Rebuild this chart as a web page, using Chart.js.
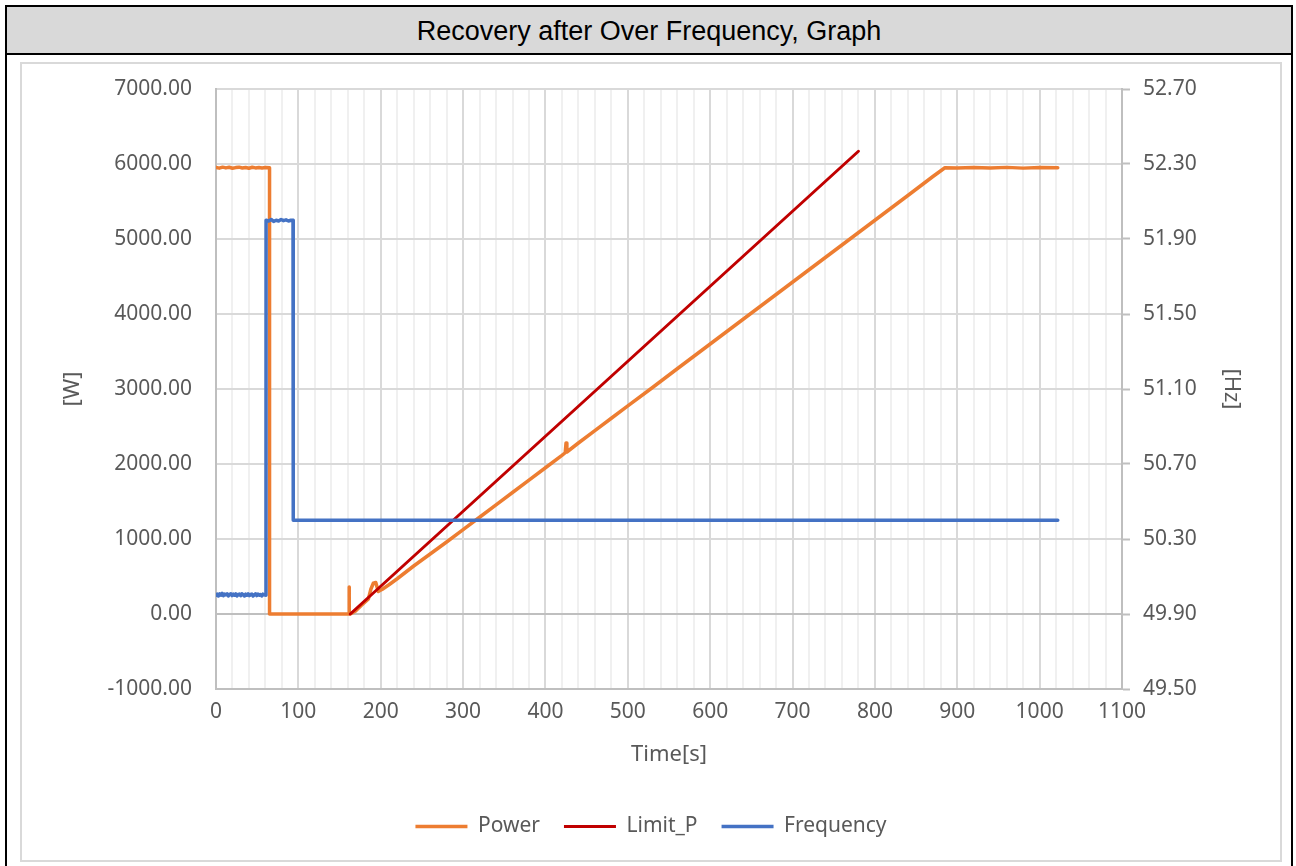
<!DOCTYPE html>
<html>
<head>
<meta charset="utf-8">
<script src="https://cdn.jsdelivr.net/npm/chart.js@4.4.1/dist/chart.umd.min.js"></script>
<style>
  html, body { margin: 0; padding: 0; background: #fff; overflow: hidden; }
  #outer { position: absolute; left: 5px; top: 5px; width: 1288px; height: 900px; box-sizing: border-box; border: 2px solid #000; }
  #title { position: absolute; left: 0; top: 0; right: 0; height: 46px; background: #d9d9d9; border-bottom: 2px solid #000;
           font-family: "Liberation Sans", Arial, sans-serif; font-size: 27px; color: #000; text-align: center; line-height: 48px; }
  #chartbox { position: absolute; left: 20px; top: 62px; width: 1262px; height: 800px; box-sizing: border-box; border: 2px solid #d9d9d9; }
  #c { position: absolute; left: 0; top: 0; }
</style>
</head>
<body>
<div id="outer"><div id="title">Recovery after Over Frequency, Graph</div></div>
<div id="chartbox"><canvas id="c" width="1258" height="796"></canvas></div>
<script>
// ---- data ----
const seriesNames = ["Power", "Limit_P", "Frequency"];

const powerTime  = [0, 4, 8, 12, 16, 20, 24, 28, 32, 36, 40, 44, 48, 52, 56, 60, 65, 65,
                    161.5, 161.5, 162, 163, 170, 176, 180, 185, 188, 191, 194, 197, 202, 210, 220,
                    240, 260, 280, 300, 320, 340, 360, 380, 400, 420, 424, 425, 426, 440, 460, 480,
                    500, 530, 560, 600, 640, 680, 720, 760, 800, 840, 870, 885,
                    900, 920, 940, 960, 980, 1000, 1022];
const powerValue = [5955, 5945, 5958, 5948, 5956, 5944, 5952, 5958, 5946, 5953, 5944, 5956, 5948, 5954, 5946, 5952, 5950, 0,
                    0, 360, 0, 0, 45, 110, 150, 200, 330, 410, 420, 300, 330, 390, 470,
                    640, 800, 960, 1125, 1290, 1455, 1620, 1785, 1950, 2115, 2150, 2280, 2160, 2280, 2445, 2610,
                    2775, 3020, 3270, 3600, 3930, 4260, 4590, 4920, 5250, 5580, 5830, 5950,
                    5946, 5954, 5948, 5955, 5945, 5952, 5950];

const limitTime  = [163, 780];
const limitValue = [0, 6170];

const freqTime  = [0, 1.5, 3, 4.5, 6, 7.5, 9, 10.5, 12, 13.5, 15, 16.5, 18, 19.5, 21, 22.5, 24, 25.5, 27, 28.5, 30,
                   31.5, 33, 34.5, 36, 37.5, 39, 40.5, 42, 43.5, 45, 46.5, 48, 49.5, 51, 52.5, 54, 55.5, 57, 58.5, 60.7,
                   60.8, 64, 67, 70, 73, 76, 79, 82, 85, 88, 91, 93.5, 93.8, 1022];
const freqValue = [50.000, 50.006, 49.996, 50.008, 50.000, 50.010, 49.998, 50.006, 50.002, 50.008, 49.996, 50.004, 50.008, 49.998, 50.006, 50.000, 50.008, 49.996, 50.004, 50.006, 49.998,
                   50.008, 50.002, 49.996, 50.006, 50.000, 50.008, 49.998, 50.004, 50.006, 49.996, 50.002, 50.008, 49.998, 50.006, 50.000, 50.004, 49.996, 50.006, 50.002, 50.000,
                   52.000, 51.996, 52.004, 51.994, 52.000, 51.996, 52.004, 51.998, 52.002, 51.996, 52.000, 52.000, 50.400, 50.400];

const xTickMin = 0, xTickMax = 1100, xMajorStep = 100, xMinorStep = 20;
const wTickMin = -1000, wTickMax = 7000, wTickStep = 1000;
const hzTickMin = 49.5, hzTickMax = 52.7, hzTickStep = 0.4;

const toPts = (xs, ys) => xs.map((x, i) => ({ x: x, y: ys[i] }));

const FONT = "'Noto Sans', 'DejaVu Sans', sans-serif";
const GREY = "#595959";

new Chart(document.getElementById('c'), {
  type: 'line',
  data: {
    datasets: [
      { label: seriesNames[0], data: toPts(powerTime, powerValue), yAxisID: 'y', borderColor: '#ED7D31', backgroundColor: '#ED7D31',
        borderWidth: 3.5, pointRadius: 0, tension: 0, order: 2, borderJoinStyle: 'round', borderCapStyle: 'round' },
      { label: seriesNames[1], data: toPts(limitTime, limitValue), yAxisID: 'y', borderColor: '#C00000', backgroundColor: '#C00000',
        borderWidth: 3, pointRadius: 0, tension: 0, order: 1, borderJoinStyle: 'round', borderCapStyle: 'round' },
      { label: seriesNames[2], data: toPts(freqTime, freqValue), yAxisID: 'y1', borderColor: '#4472C4', backgroundColor: '#4472C4',
        borderWidth: 3.5, pointRadius: 0, tension: 0, order: 0, borderJoinStyle: 'round', borderCapStyle: 'round' }
    ]
  },
  options: {
    responsive: false,
    animation: false,
    devicePixelRatio: 1,
    layout: { padding: { top: 25, bottom: 13, left: 0, right: 0 } },
    plugins: {
      tooltip: { enabled: false },
      legend: {
        position: 'bottom',
        labels: { usePointStyle: true, pointStyle: 'line', pointStyleWidth: 52, padding: 24,
                  color: GREY, font: { family: FONT, size: 21 },
                  sort: (a, b) => a.datasetIndex - b.datasetIndex }
      }
    },
    scales: {
      x: {
        type: 'linear', min: xTickMin, max: xTickMax,
        afterFit: s => { s.height = 103; },
        ticks: { stepSize: xMinorStep, autoSkip: false, maxRotation: 0, padding: 10, color: GREY,
                 font: { family: FONT, size: 21 },
                 callback: v => (Math.round(v) % xMajorStep === 0 ? String(Math.round(v)) : '') },
        grid: { drawTicks: false, lineWidth: 2,
                color: c => (c.tick && Math.round(c.tick.value) % xMajorStep === 0 ? '#d9d9d9' : '#f0f0f0') },
        border: { display: true, color: '#bfbfbf', width: 2 },
        title: { display: true, text: 'Time[s]', color: GREY, font: { family: FONT, size: 22 }, padding: { top: 4, bottom: 24 } }
      },
      y: {
        position: 'left', min: wTickMin, max: wTickMax,
        afterFit: s => { s.width = 194; s.paddingTop = 12; s.paddingBottom = 12; },
        ticks: { stepSize: wTickStep, padding: 24, color: GREY, font: { family: FONT, size: 21 },
                 callback: v => Number(v).toFixed(2) },
        grid: { drawTicks: false, lineWidth: 2,
                color: c => (c.tick && c.tick.value === 0 ? '#bfbfbf' : '#d9d9d9') },
        border: { display: true, color: '#bfbfbf', width: 2 },
        title: { display: true, text: '[W]', color: GREY, font: { family: FONT, size: 22 }, padding: { top: 38, bottom: 0 } }
      },
      y1: {
        position: 'right', min: hzTickMin, max: hzTickMax,
        afterFit: s => { s.width = 158; s.paddingTop = 12; s.paddingBottom = 12; },
        ticks: { stepSize: hzTickStep, padding: 13, color: GREY, font: { family: FONT, size: 21 },
                 callback: v => Number(v).toFixed(2) },
        grid: { drawOnChartArea: false, drawTicks: true, tickLength: 8, tickWidth: 2, tickColor: '#bfbfbf', color: '#bfbfbf' },
        border: { display: true, color: '#bfbfbf', width: 2 },
        title: { display: true, text: '[Hz]', color: GREY, font: { family: FONT, size: 22 }, padding: { top: 36, bottom: 0 } }
      }
    }
  }
});
</script>
</body>
</html>
